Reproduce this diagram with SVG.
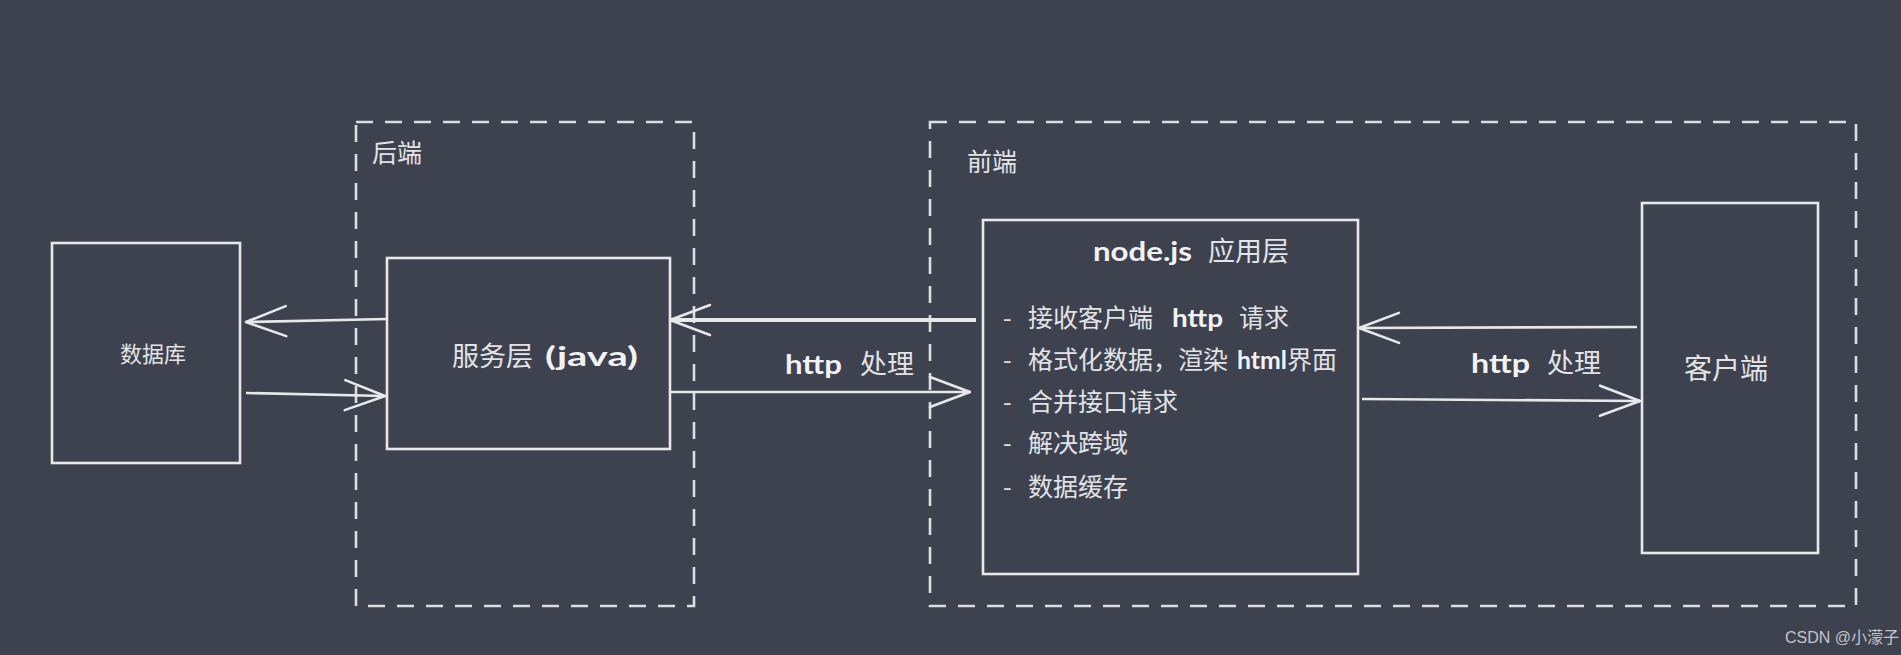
<svg xmlns="http://www.w3.org/2000/svg" width="1901" height="655" viewBox="0 0 1901 655">
<defs>
<style>
.bg{fill:#3e414e}
.box{fill:none;stroke:#e8e8ea;stroke-width:2.6}
.dash{fill:none;stroke:#dcdde0;stroke-width:2.6;stroke-dasharray:17 12}
.cn{font-family:"Noto Sans CJK SC","Noto Sans",sans-serif;fill:#e2e3e6}
.hw{font-family:"Lato","Noto Sans",sans-serif;font-weight:bold;fill:#f2f2f4}
.line{fill:none;stroke:#e8e8ea;stroke-width:2.6;marker-end:url(#open)}
.wm{font-family:"Liberation Sans","Noto Sans CJK SC",sans-serif;fill:#c4c6cc;font-size:16px}
</style>
<marker id="open" markerUnits="userSpaceOnUse" viewBox="-44 -18 48 36" refX="0" refY="0" markerWidth="48" markerHeight="36" orient="auto">
<path d="M -40 -15 L 0 0 L -40 15" fill="none" stroke="#e8e8ea" stroke-width="2.6" stroke-linecap="round" stroke-linejoin="round"/>
</marker>
</defs>
<rect class="bg" x="0" y="0" width="1901" height="655"/>

<g id="backend-group">
<rect class="dash" x="356" y="122" width="338" height="484"/>
<text class="cn" x="372" y="162" font-size="25">后端</text>
</g>

<g id="frontend-group">
<rect class="dash" x="930" y="122" width="926" height="484"/>
<text class="cn" x="967" y="171" font-size="25">前端</text>
</g>

<g id="database">
<rect class="box" x="52" y="243" width="188" height="220"/>
<text class="cn" x="120" y="362" font-size="22">数据库</text>
</g>

<g id="service">
<rect class="box" x="387" y="258" width="283" height="191"/>
<text class="cn" x="452" y="366" font-size="27">服务层</text>
<text class="hw" x="545" y="366" font-size="26" textLength="93" lengthAdjust="spacingAndGlyphs">(java)</text>
</g>

<g id="nodejs">
<rect class="box" x="983" y="220" width="375" height="354"/>
<text class="hw" x="1093" y="261" font-size="27" textLength="99" lengthAdjust="spacingAndGlyphs">node.js</text>
<text class="cn" x="1208" y="261" font-size="27">应用层</text>
<g font-size="25">
<text class="cn" x="1003" y="327">-</text>
<text class="cn" x="1028" y="327">接收客户端</text>
<text class="hw" x="1172" y="327" textLength="51" lengthAdjust="spacingAndGlyphs">http</text>
<text class="cn" x="1239" y="327">请求</text>
<text class="cn" x="1003" y="369">-</text>
<text class="cn" x="1028" y="369">格式化数据，渲染</text>
<text class="hw" x="1237" y="369" textLength="50" lengthAdjust="spacingAndGlyphs">html</text>
<text class="cn" x="1287" y="369">界面</text>
<text class="cn" x="1003" y="411">-</text>
<text class="cn" x="1028" y="411">合并接口请求</text>
<text class="cn" x="1003" y="452">-</text>
<text class="cn" x="1028" y="452">解决跨域</text>
<text class="cn" x="1003" y="496">-</text>
<text class="cn" x="1028" y="496">数据缓存</text>
</g>
</g>

<g id="client">
<rect class="box" x="1642" y="203" width="176" height="350"/>
<text class="cn" x="1684" y="379" font-size="28">客户端</text>
</g>

<g id="connectors">
<path class="line" d="M 387 319 L 246 322"/>
<path class="line" d="M 246 393 L 385 396"/>
<path class="line" d="M 976 320 L 670 320" style="stroke-width:4"/>
<path class="line" d="M 670 392 L 970 392"/>
<path class="line" d="M 1637 327 L 1359 328"/>
<path class="line" d="M 1362 399 L 1640 401"/>
<text class="hw" x="785" y="374" font-size="26" textLength="57" lengthAdjust="spacingAndGlyphs">http</text>
<text class="cn" x="860" y="374" font-size="27">处理</text>
<text class="hw" x="1471" y="373" font-size="26" textLength="59" lengthAdjust="spacingAndGlyphs">http</text>
<text class="cn" x="1547" y="373" font-size="27">处理</text>
</g>

<text class="wm" x="1785" y="643">CSDN @小濛子</text>
</svg>
